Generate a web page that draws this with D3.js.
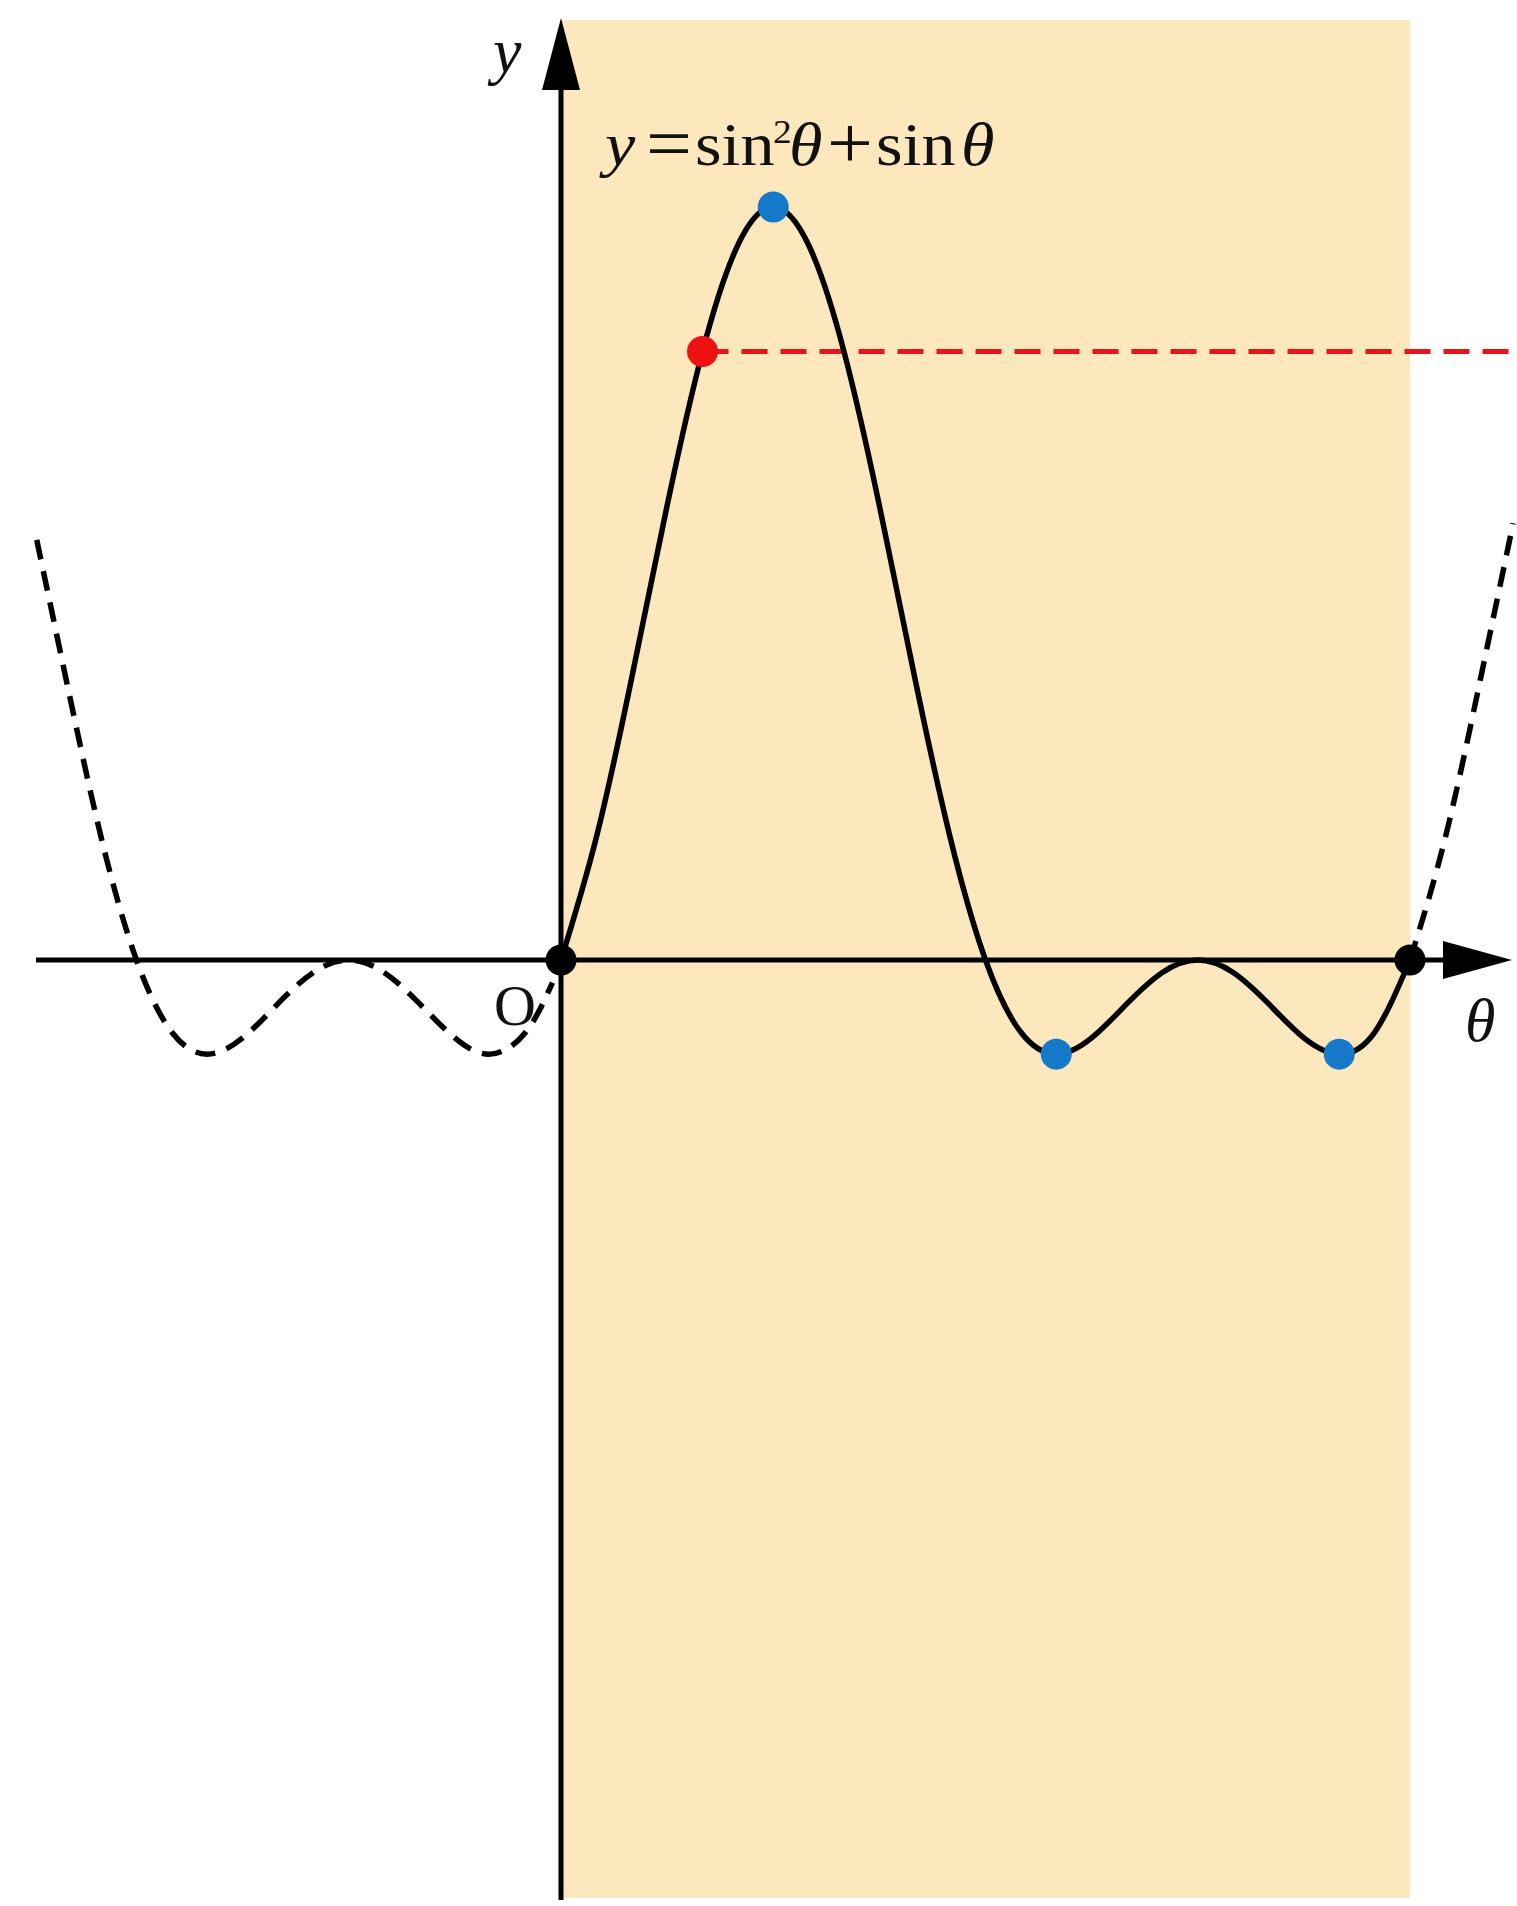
<!DOCTYPE html>
<html>
<head>
<meta charset="utf-8">
<script src="https://cdn.jsdelivr.net/npm/d3@7"></script>
<style>
  html, body { margin: 0; padding: 0; background: #fff; }
  svg { display: block; }
  text { font-family: "Liberation Serif", "Times New Roman", serif; fill: #111; }
</style>
</head>
<body>
<svg id="chart"></svg>
<script>
// theta is stored in multiples of pi
const mainTheta = [0, 1/12, 2/12, 3/12, 4/12, 5/12, 6/12, 7/12, 8/12, 9/12, 10/12, 11/12, 1,
                   13/12, 14/12, 15/12, 16/12, 17/12, 18/12, 19/12, 20/12, 21/12, 22/12, 23/12, 2];
const mainY = [0, 0.326, 0.75, 1.207, 1.616, 1.899, 2, 1.899, 1.616, 1.207, 0.75, 0.326, 0,
               -0.192, -0.25, -0.207, -0.116, -0.033, 0, -0.033, -0.116, -0.207, -0.25, -0.192, 0];

const leftTheta = [-1.235, -14/12, -13/12, -1, -11/12, -10/12, -9/12, -8/12, -7/12, -6/12,
                   -5/12, -4/12, -3/12, -2/12, -1/12, -0.02];
const leftY = [1.116, 0.75, 0.326, 0, -0.192, -0.25, -0.207, -0.116, -0.033, 0,
               -0.033, -0.116, -0.207, -0.25, -0.192, -0.06];

const rightTheta = [2, 25/12, 26/12, 2.243];
const rightY = [0, 0.326, 0.75, 1.16];

// marked points
const maxPts = [[1/2, 2]];
const minPts = [[7/6, -0.25], [11/6, -0.25]];
const zeroPts = [[0, 0], [2, 0]];
const redPt = [1/3, 1.616];

const W = 1517, H = 1906;
const svg = d3.select("#chart").attr("width", W).attr("height", H);

const x = d3.scaleLinear().domain([0, 2]).range([561, 1410]);
const y = d3.scaleLinear().domain([0, 2]).range([960, 207]);

const x0 = x(0), y0 = y(0);

// shaded band 0..2pi
svg.append("rect")
    .attr("x", x(0)).attr("y", 20)
    .attr("width", x(2) - x(0)).attr("height", 1878)
    .attr("fill", "#fde7bc");

const line = d3.line()
    .x(d => x(d[0]))
    .y(d => y(d[1]))
    .curve(d3.curveNatural);

const zip = (a, b) => a.map((v, i) => [v, b[i]]);

// red dashed level line
svg.append("line")
    .attr("x1", x(redPt[0])).attr("y1", y(redPt[1]))
    .attr("x2", W).attr("y2", y(redPt[1]))
    .attr("stroke", "#e8141b").attr("stroke-width", 5)
    .attr("stroke-dasharray", "26 13");

// axes
svg.append("line")
    .attr("x1", 36).attr("y1", y0).attr("x2", 1450).attr("y2", y0)
    .attr("stroke", "#000").attr("stroke-width", 5);
svg.append("polygon")
    .attr("points", `1512,${y0} 1443,${y0 - 19} 1443,${y0 + 19}`)
    .attr("fill", "#000");

svg.append("line")
    .attr("x1", x0).attr("y1", 80).attr("x2", x0).attr("y2", 1900)
    .attr("stroke", "#000").attr("stroke-width", 5);
svg.append("polygon")
    .attr("points", `${x0},18 ${x0 - 19},90 ${x0 + 19},90`)
    .attr("fill", "#000");

// dashed continuations
[zip(leftTheta, leftY), zip(rightTheta, rightY)].forEach(pts => {
  svg.append("path")
      .attr("d", line(pts))
      .attr("fill", "none")
      .attr("stroke", "#000")
      .attr("stroke-width", 5.5)
      .attr("stroke-dasharray", "20 12");
});

// main curve
svg.append("path")
    .attr("d", line(zip(mainTheta, mainY)))
    .attr("fill", "none")
    .attr("stroke", "#000")
    .attr("stroke-width", 5.5);

// points
const dot = (p, c) => svg.append("circle")
    .attr("cx", x(p[0])).attr("cy", y(p[1])).attr("r", 15.5).attr("fill", c);
maxPts.concat(minPts).forEach(p => dot(p, "#1479c8"));
zeroPts.forEach(p => dot(p, "#000"));
dot(redPt, "#ee1111");

// labels
svg.append("text")
    .attr("x", 493).attr("y", 72)
    .attr("font-size", 64).attr("font-style", "italic")
    .text("y");

svg.append("text")
    .attr("x", 494).attr("y", 1025)
    .attr("font-size", 58)
    .text("O");

svg.append("text")
    .attr("x", 1465).attr("y", 1041)
    .attr("font-size", 62).attr("font-style", "italic")
    .text("θ");

// formula, slightly stretched like the original
const sx = 1.1;
const f = svg.append("g")
    .attr("transform", `translate(605,165) scale(${sx},1)`)
  .append("text")
    .attr("font-size", 62);
const piece = (px, txt, italic, opts = {}) => {
  const t = f.append("tspan").attr("x", px / sx).text(txt);
  if (italic) t.attr("font-style", "italic");
  if (opts.size) t.attr("font-size", opts.size);
  t.attr("y", opts.dy || 0);
  return t;
};
piece(0, "y", true);
piece(41, "=", false, { size: 74, dy: 3 });
piece(90, "sin", false);
piece(168, "2", false, { size: 34, dy: -22 });
piece(184, "θ", true);
piece(222, "+", false, { size: 74, dy: 3 });
piece(271, "sin", false);
piece(356, "θ", true);
</script>
</body>
</html>
